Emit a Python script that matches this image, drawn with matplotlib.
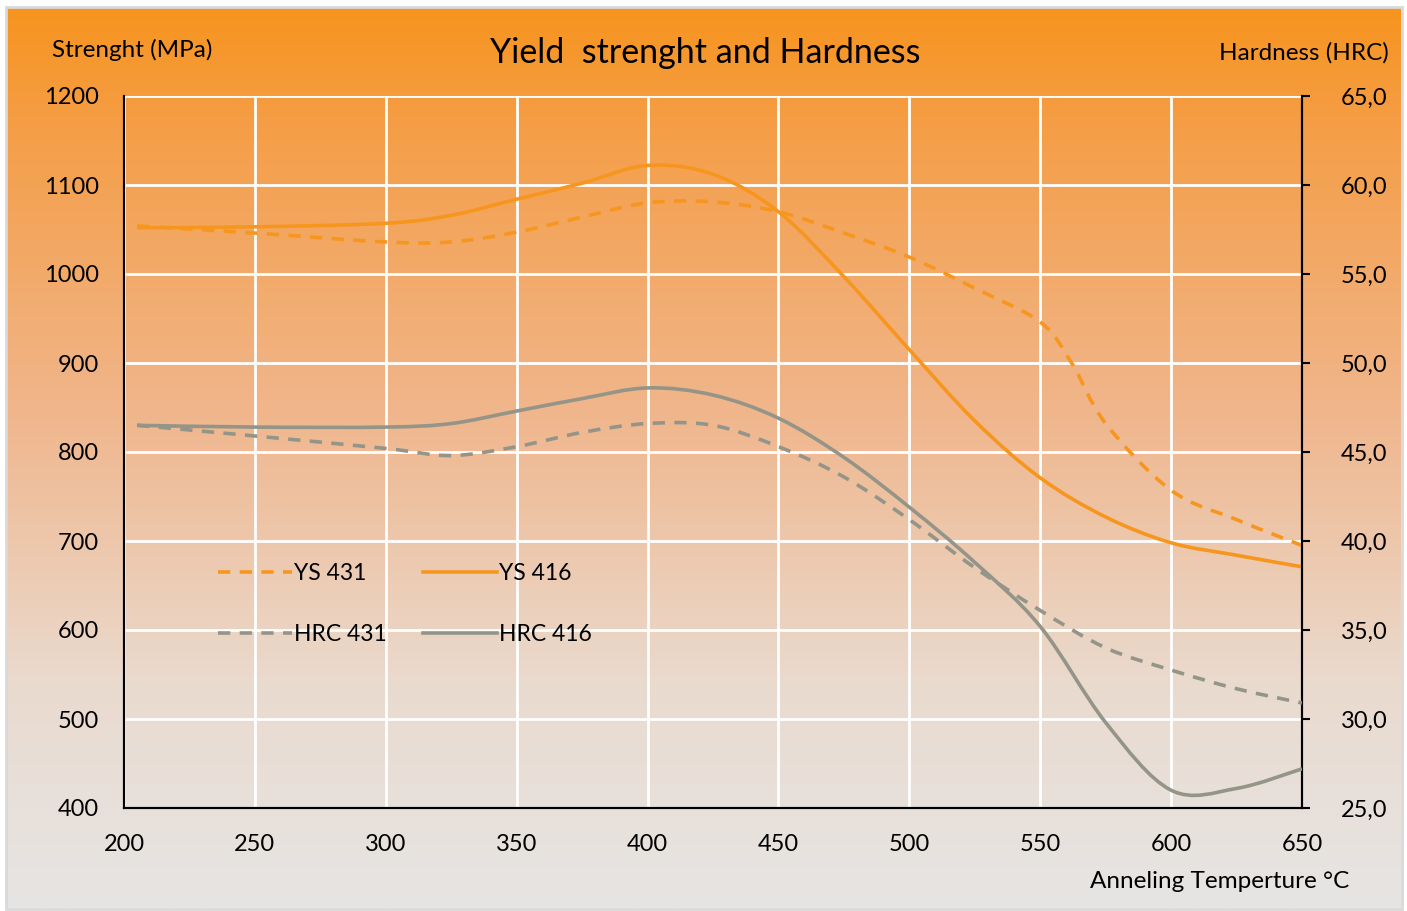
import numpy as np
import matplotlib
matplotlib.use("Agg")
from matplotlib import pyplot as plt
from matplotlib.path import Path
from matplotlib.patches import PathPatch, Rectangle
from matplotlib.lines import Line2D
from matplotlib.ticker import FuncFormatter

plt.rcParams['font.family'] = ['Lato', 'DejaVu Sans']

# Annealing temperature (°C)
temp_416 = [205, 250, 300, 325, 350, 375, 400, 425, 450, 475, 500, 525, 550, 575, 600, 625, 650]
temp_431 = [205, 250, 300, 325, 350, 375, 400, 425, 450, 475, 500, 525, 550, 562, 575, 600, 625, 650]

# Yield strength (MPa)
ys_416 = [1052, 1053, 1057, 1066, 1084, 1102, 1122, 1112, 1070, 997, 915, 835, 771, 727, 698, 684, 671]
ys_431 = [1054, 1046, 1036, 1036, 1047, 1064, 1080, 1081, 1070, 1046, 1019, 984, 946, 900, 832, 757, 724, 695]

# Hardness (HRC)
temp_hrc = [205, 250, 300, 325, 350, 375, 400, 425, 450, 475, 500, 525, 550, 575, 600, 625, 650]
hrc_416 = [46.5, 46.4, 46.4, 46.6, 47.3, 48.0, 48.6, 48.2, 46.9, 44.7, 41.9, 38.8, 35.2, 29.8, 26.0, 26.1, 27.2]
hrc_431 = [46.5, 45.9, 45.2, 44.8, 45.3, 46.1, 46.6, 46.5, 45.3, 43.6, 41.2, 38.5, 36.1, 34.0, 32.75, 31.7, 30.9]

x_ticks = [200, 250, 300, 350, 400, 450, 500, 550, 600, 650]
ys_ticks = [400, 500, 600, 700, 800, 900, 1000, 1100, 1200]
hrc_ticks = [25, 30, 35, 40, 45, 50, 55, 60, 65]

ORANGE = '#F7961F'
GREY = '#949588'
DASH = (0, (3.4, 2.6))


# smoothed line like Excel: Catmull-Rom turned into cubic Bezier segments
def smooth_path(xs, ys):
    p = np.column_stack([xs, ys]).astype(float)
    p = np.vstack([p[0], p, p[-1]])
    verts = [p[1]]
    codes = [Path.MOVETO]
    for i in range(1, len(p) - 2):
        c1 = p[i] + (p[i + 1] - p[i - 1]) / 6
        c2 = p[i + 1] - (p[i + 2] - p[i]) / 6
        verts += [c1, c2, p[i + 1]]
        codes += [Path.CURVE4] * 3
    return Path(verts, codes)


fig = plt.figure(figsize=(14.07, 9.11), dpi=100)
W, H = 1407, 911

# chart area background: orange to light grey gradient
bg = fig.add_axes([7 / W, 1 - 908 / H, 1394 / W, 900 / H], zorder=0)
stops = np.array([[0.0, 247, 148, 30],
                  [0.12, 245, 157, 68],
                  [0.45, 240, 182, 140],
                  [0.75, 234, 218, 206],
                  [1.0, 230, 229, 228]])
t = np.linspace(0, 1, 400)
grad = np.stack([np.interp(t, stops[:, 0], stops[:, k]) for k in (1, 2, 3)], axis=1) / 255
bg.imshow(grad[:, None, :], aspect='auto', extent=[0, 1, 0, 1])
bg.set_axis_off()
fig.patches.append(Rectangle((6 / W, 1 - 909 / H), 1396 / W, 902 / H, transform=fig.transFigure,
                             fill=False, edgecolor='#D9D9D9', linewidth=2, zorder=1))

ax = fig.add_axes([124 / W, 1 - 808 / H, 1178 / W, 712 / H], zorder=2)
ax.patch.set_alpha(0)
ax2 = ax.twinx()

ax.set_xlim(200, 650)
ax.set_ylim(400, 1200)
ax2.set_ylim(25, 65)
ax.set_xticks(x_ticks)
ax.set_yticks(ys_ticks)
ax2.set_yticks(hrc_ticks)
ax2.yaxis.set_major_formatter(FuncFormatter(lambda v, p: f"{v:.1f}".replace('.', ',')))

ax.grid(True, color='white', linewidth=2)
ax.set_axisbelow(True)
for a in (ax, ax2):
    a.spines['top'].set_visible(False)
    for s in ('left', 'bottom', 'right'):
        a.spines[s].set_color('black')
        a.spines[s].set_linewidth(1.5)
ax.tick_params(axis='x', length=0, pad=19, labelsize=17)
ax.tick_params(axis='y', length=0, pad=18, labelsize=17)
ax2.tick_params(axis='y', length=6, width=1.5, pad=22, labelsize=17, direction='out')

ax.add_patch(PathPatch(smooth_path(temp_431, ys_431), fill=False, edgecolor=ORANGE, lw=2.6,
                       linestyle=DASH, capstyle='butt', zorder=3))
ax.add_patch(PathPatch(smooth_path(temp_416, ys_416), fill=False, edgecolor=ORANGE, lw=2.6, zorder=3))
ax2.add_patch(PathPatch(smooth_path(temp_hrc, hrc_431), fill=False, edgecolor=GREY, lw=2.6,
                        linestyle=DASH, capstyle='butt', zorder=3))
ax2.add_patch(PathPatch(smooth_path(temp_hrc, hrc_416), fill=False, edgecolor=GREY, lw=2.6, zorder=3))

handles = [Line2D([], [], color=ORANGE, lw=2.6, linestyle=DASH),
           Line2D([], [], color=GREY, lw=2.6, linestyle=DASH),
           Line2D([], [], color=ORANGE, lw=2.6),
           Line2D([], [], color=GREY, lw=2.6)]
labels = ['YS 431', 'HRC 431', 'YS 416', 'HRC 416']
ax2.legend(handles, labels, ncol=2, loc='center left', bbox_to_anchor=(0.08, 0.2865),
           frameon=False, fontsize=16.5, handlelength=3.2, handletextpad=0.1,
           columnspacing=1.6, labelspacing=1.75, borderpad=0, borderaxespad=0)

fig.text(705 / W, 1 - 53 / H, 'Yield  strenght and Hardness', ha='center', va='center', fontsize=24.5)
fig.text(52 / W, 1 - 50 / H, 'Strenght (MPa)', ha='left', va='center', fontsize=17.5)
fig.text(1389 / W, 1 - 53 / H, 'Hardness (HRC)', ha='right', va='center', fontsize=17.5)
fig.text(1349 / W, 1 - 881 / H, 'Anneling Temperture °C', ha='right', va='center', fontsize=17.5)

fig.savefig('out.png', dpi=100, facecolor='white')
